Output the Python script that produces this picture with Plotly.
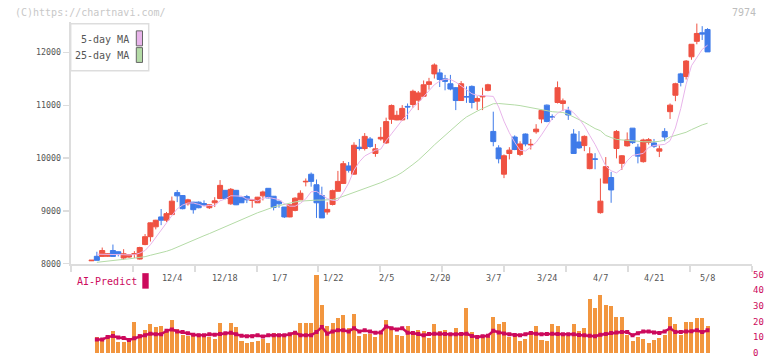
import plotly.graph_objects as go

# ---------------- data ----------------
open_ = [8055, 8140, 8138, 8140, 8250, 8226, 8107, 8126, 8180, 8088,
         8363, 8512, 8699, 8886, 8824, 8930, 9347, 9291, 9135, 9166,
         9166, 9140, 9060, 9154, 9235, 9390, 9135, 9390, 9260, 9272,
         9198, 9154, 9285, 9428, 9278, 9185, 9073, 8886, 9010, 9210,
         9550, 9695, 9496, 9291, 8979, 9122, 9372, 9521, 9852, 9696,
         10207, 10182, 10363, 10088, 10363, 10288, 10736, 10724, 10724, 10980,
         11016, 11097, 11172, 11397, 11596, 11615, 11502, 11409, 11334, 11091,
         11166, 11359, 11079, 11160, 11284, 10506, 10194, 9696, 10088, 10400,
         10070, 10456, 10250, 10499, 10742, 11004, 10785, 11054, 11035, 10904,
         10456, 10306, 10238, 9801, 9985, 8967, 9527, 9633, 10182, 9901,
         10232, 10568, 10207, 9933, 10300, 10288, 10132, 10506, 10880, 11191,
         11596, 11546, 11920, 12213, 12375, 12437]
high = [8070, 8226, 8306, 8200, 8363, 8230, 8275, 8180, 8238, 8320,
        8562, 8780, 8830, 9036, 8980, 9272, 9397, 9300, 9230, 9170,
        9180, 9200, 9122, 9260, 9584, 9395, 9434, 9395, 9265, 9303,
        9210, 9265, 9384, 9430, 9280, 9190, 9075, 9120, 9260, 9390,
        9615, 9727, 9596, 9459, 9166, 9403, 9758, 9945, 9926, 10300,
        10363, 10475, 10400, 10269, 10587, 10767, 11016, 10898, 11004, 11035,
        11297, 11272, 11471, 11521, 11795, 11689, 11577, 11577, 11347, 11459,
        11359, 11378, 11172, 11334, 11409, 10880, 10244, 10070, 10207, 10431,
        10319, 10468, 10362, 10643, 10917, 11016, 10829, 11453, 11129, 10973,
        10549, 10512, 10431, 10207, 10094, 9615, 10020, 9739, 10531, 10057,
        10487, 10570, 10269, 10369, 10381, 10363, 10238, 10568, 11035, 11428,
        11615, 11858, 12157, 12549, 12500, 12462]
low = [8050, 8064, 8138, 8130, 8138, 8138, 8076, 8110, 8107, 8080,
       8350, 8419, 8650, 8730, 8792, 8930, 9166, 9030, 9100, 8948,
       9050, 9100, 9036, 9073, 9222, 9222, 9116, 9110, 9150, 9148,
       9060, 9150, 9198, 9240, 9010, 9060, 8867, 8880, 8992, 9210,
       9465, 9459, 8867, 8867, 8929, 9104, 9370, 9515, 9727, 9690,
       10145, 10145, 10194, 10026, 10331, 10269, 10649, 10718, 10711, 10736,
       10954, 10910, 11160, 11297, 11508, 11347, 11285, 11285, 10910, 11085,
       11047, 10942, 10910, 10910, 11266, 10225, 9901, 9621, 9976, 10151,
       10038, 10225, 10163, 10462, 10661, 10680, 10724, 11035, 10892, 10724,
       10088, 10176, 10132, 9789, 9789, 8948, 9527, 9154, 9995, 9776,
       10219, 10269, 9901, 9914, 10257, 10194, 10020, 10319, 10742, 11079,
       11359, 11490, 11864, 12157, 12238, 12013]
close = [8065, 8064, 8250, 8190, 8138, 8188, 8188, 8170, 8190, 8306,
         8512, 8774, 8824, 8824, 8948, 9185, 9285, 9042, 9210, 9023,
         9060, 9110, 9116, 9191, 9484, 9235, 9409, 9116, 9154, 9210,
         9210, 9260, 9359, 9247, 9067, 9135, 8886, 9116, 9241, 9335,
         9560, 9559, 9154, 8867, 9029, 9384, 9559, 9895, 9770, 10244,
         10182, 10412, 10220, 10176, 10394, 10692, 10998, 10811, 10942, 10970,
         11266, 11235, 11390, 11446, 11764, 11490, 11453, 11309, 11091, 11409,
         11160, 11054, 11129, 11172, 11390, 10313, 9988, 10045, 10151, 10163,
         10269, 10269, 10260, 10549, 10904, 10693, 10780, 11334, 11085, 10817,
         10088, 10194, 10412, 10082, 9980, 9185, 9839, 9397, 10506, 10045,
         10344, 10294, 10038, 10344, 10350, 10225, 10176, 10400, 11004, 11409,
         11434, 11839, 12157, 12362, 12350, 12013]
ma5 = [None, 8180, 8180, 8175, 8175, 8175, 8170, 8165, 8170, 8200,
       8250, 8360, 8500, 8640, 8790, 8910, 9040, 9110, 9150, 9150,
       9124, 9089, 9104, 9100, 9192, 9227, 9287, 9287, 9280, 9225,
       9220, 9190, 9239, 9257, 9229, 9214, 9139, 9090, 9089, 9143,
       9228, 9362, 9370, 9295, 9234, 9199, 9199, 9347, 9527, 9770,
       9930, 10040, 10100, 10150, 10170, 10330, 10460, 10600, 10720, 10830,
       10960, 11050, 11160, 11270, 11390, 11460, 11495, 11492, 11440, 11370,
       11295, 11220, 11190, 11188, 11185, 11170, 10970, 10700, 10480, 10300,
       10150, 10135, 10210, 10300, 10440, 10600, 10750, 10850, 10910, 10930,
       10860, 10750, 10610, 10430, 10260, 10060, 9850, 9760, 9720, 9800,
       9950, 10050, 10070, 10090, 10200, 10240, 10250, 10260, 10330, 10570,
       10940, 11400, 11750, 11900, 12060, 12140]
ma25 = [None, 8026, 8040, 8052, 8064, 8073, 8083, 8092, 8101, 8115,
        8133, 8160, 8185, 8205, 8235, 8270, 8315, 8360, 8400, 8440,
        8485, 8530, 8570, 8615, 8660, 8705, 8750, 8795, 8840, 8885,
        8925, 8965, 9000, 9040, 9075, 9100, 9125, 9148, 9170, 9185,
        9195, 9200, 9205, 9205, 9208, 9215, 9240, 9275, 9320, 9360,
        9395, 9425, 9460, 9500, 9535, 9580, 9620, 9670, 9730, 9800,
        9880, 9960, 10050, 10150, 10250, 10340, 10440, 10530, 10620, 10700,
        10780, 10840, 10890, 10940, 10990, 11030, 11035, 11030, 11020, 11008,
        10995, 10975, 10950, 10930, 10910, 10895, 10880, 10872, 10865, 10830,
        10780, 10740, 10680, 10620, 10560, 10520, 10430, 10390, 10355, 10345,
        10340, 10330, 10320, 10310, 10306, 10310, 10318, 10340, 10400, 10430,
        10460, 10490, 10540, 10590, 10630, 10661]
volume = [None, 10.1, 8.4, 11.5, 13.6, 6.9, 6.9, 7.3, 19.9, 11.8,
          14.3, 18.1, 16.2, 16.8, 13.6, 21.2, 14.9, 11.1, 10.7, 11.5,
          11.1, 11.5, 10.1, 8.6, 19.3, 11.8, 19.3, 16.4, 7.3, 6.1,
          6.9, 7.3, 8.6, 6.5, 12.8, 10.7, 12.0, 11.5, 12.4, 18.7,
          19.3, 19.3, 49.5, 30.6, 17.0, 18.7, 22.5, 24.1, 15.5, 25.0,
          10.5, 11.8, 12.0, 9.9, 12.8, 20.6, 15.7, 11.1, 10.7, 17.0,
          12.8, 14.3, 13.6, 9.4, 18.1, 13.6, 14.3, 11.1, 15.7, 11.1,
          28.3, 13.2, 10.1, 10.5, 10.1, 23.1, 18.1, 19.9, 10.1, 11.1,
          7.3, 8.6, 13.6, 16.8, 8.0, 7.3, 18.1, 17.4, 11.1, 10.7,
          18.1, 13.6, 15.7, 34.6, 28.3, 36.9, 30.6, 30.0, 23.1, 22.7,
          11.1, 7.3, 10.1, 9.0, 6.5, 8.0, 9.4, 11.1, 23.1, 18.1,
          11.1, 19.9, 19.9, 22.5, 22.5, 17.4]
ai_predict = [None, 8.4, 8.4, 10.0, 10.7, 9.7, 9.4, 8.2, 9.2, 10.5,
              11.1, 12.2, 11.8, 11.8, 14.0, 14.9, 13.6, 13.2, 12.5, 11.5,
              11.1, 11.1, 11.8, 11.5, 12.0, 12.5, 12.8, 11.8, 10.8, 10.5,
              10.6, 11.1, 10.3, 11.1, 11.1, 11.1, 11.1, 11.8, 12.8, 11.1,
              11.1, 11.1, 13.2, 16.4, 12.2, 13.6, 14.3, 14.3, 13.6, 15.7,
              13.6, 14.3, 13.5, 12.8, 13.0, 16.8, 15.7, 14.9, 15.7, 12.8,
              12.6, 12.0, 11.1, 12.0, 12.2, 12.2, 12.0, 11.8, 11.8, 12.0,
              12.2, 10.7, 10.1, 10.5, 10.9, 14.0, 13.0, 12.3, 11.8, 11.4,
              11.1, 11.8, 12.6, 12.2, 11.8, 12.0, 12.2, 12.0, 11.8, 11.8,
              11.8, 11.3, 11.1, 10.8, 10.5, 11.5, 12.0, 12.6, 13.0, 13.2,
              13.2, 11.1, 12.5, 13.6, 13.6, 13.0, 12.6, 13.6, 15.7, 13.2,
              13.2, 13.6, 13.8, 14.3, 13.2, 14.3]
date_labels = ["12/4", "12/18", "1/7", "1/22", "2/5", "2/20",
               "3/7", "3/24", "4/7", "4/21", "5/8"]
date_label_idx = [15, 25, 35, 45, 55, 65, 75, 85, 95, 105, 115]
price_ticks = [8000, 9000, 10000, 11000, 12000]
price_tick_text = ["8000", "9000", "10000", "11000", "12000"]
vol_ticks = [0, 10, 20, 30, 40, 50]
vol_tick_text = ["0", "10", "20", "30", "40", "50"]

# ---------------- styling ----------------
W, H = 772, 361
RED = "#ef5242"
BLUE = "#3f7be9"
ORANGE = "#f2963f"
CRIMSON = "#cc0a5c"
PINK = "#e8b4ea"
GREEN = "#b4dba6"
AXIS = "#dddddd"
TXT = "#555555"
FONT = "DejaVu Sans Mono"


def px(x):
    return x / W


def py(y):
    return 1 - y / H


x = list(range(len(close)))
X_LEFT, X_RIGHT = 70.7, 752.0
STEP = 5.357
x_range = [-(91.5 - X_LEFT) / STEP, (len(close) - 1) + (X_RIGHT - (91.5 + STEP * (len(close) - 1))) / STEP]
span = x_range[1] - x_range[0]

fig = go.Figure()
fig.add_trace(go.Candlestick(
    x=x, open=open_, high=high, low=low, close=close,
    increasing=dict(line=dict(color=RED, width=1), fillcolor=RED),
    decreasing=dict(line=dict(color=BLUE, width=1), fillcolor=BLUE),
    whiskerwidth=0, showlegend=False, xaxis="x", yaxis="y"))
fig.add_trace(go.Scatter(x=x, y=ma25, mode="lines", line=dict(color=GREEN, width=1),
                         showlegend=False, xaxis="x", yaxis="y"))
fig.add_trace(go.Scatter(x=x, y=ma5, mode="lines", line=dict(color=PINK, width=1),
                         showlegend=False, xaxis="x", yaxis="y"))
fig.add_trace(go.Bar(x=x, y=volume, marker=dict(color=ORANGE, line=dict(width=0)),
                     width=0.75, showlegend=False, xaxis="x2", yaxis="y2"))
fig.add_trace(go.Scatter(x=x, y=ai_predict, mode="lines+markers",
                         line=dict(color=CRIMSON, width=2.5),
                         marker=dict(color=CRIMSON, size=4, symbol="square"),
                         showlegend=False, xaxis="x2", yaxis="y2"))

y_top_px, y_bot_px = 22.0, 267.4
scale = (267.4 - 53.3) / 4000.0
main_range = [8000, 8000 + (y_bot_px - y_top_px) / scale]

vol_dom = [0.0, 0.255]
vol_scale = (357.7 - 278.3) / 50.0
vol_range = [-(H - 357.7) / vol_scale, (357.7 - H * (1 - vol_dom[1])) / vol_scale]

annotations = []
for idx, lab in zip(date_label_idx, date_labels):
    annotations.append(dict(x=idx, xref="x", y=py(282), yref="paper", text=lab,
                            showarrow=False, xanchor="center", yanchor="middle",
                            font=dict(family=FONT, size=8.5, color=TXT)))
annotations += [
    dict(x=px(13), y=py(12.5), xref="paper", yref="paper", text="(C)https://chartnavi.com/",
         showarrow=False, xanchor="left", yanchor="middle",
         font=dict(family=FONT, size=10, color="#c8c8c8")),
    dict(x=px(758), y=py(12.5), xref="paper", yref="paper", text="7974",
         showarrow=False, xanchor="right", yanchor="middle",
         font=dict(family=FONT, size=10, color="#bdbdbd")),
    dict(x=px(131), y=py(40), xref="paper", yref="paper", text="5-day MA",
         showarrow=False, xanchor="right", yanchor="middle",
         font=dict(family=FONT, size=10, color=TXT)),
    dict(x=px(131), y=py(56.5), xref="paper", yref="paper", text="25-day MA",
         showarrow=False, xanchor="right", yanchor="middle",
         font=dict(family=FONT, size=10, color=TXT)),
    dict(x=px(74.5), y=py(285.5), xref="paper", yref="paper", text="AI-Predict",
         showarrow=False, xanchor="left", yanchor="middle",
         font=dict(family=FONT, size=10, color=CRIMSON)),
]

shapes = [
    dict(type="rect", xref="paper", yref="paper", x0=px(70.7), x1=px(148.7),
         y0=py(71.7), y1=py(24), line=dict(color=AXIS, width=1.5), fillcolor="white"),
    dict(type="rect", xref="paper", yref="paper", x0=px(136.3), x1=px(142.5),
         y0=py(46.5), y1=py(31.3), line=dict(color="#666666", width=1), fillcolor=PINK),
    dict(type="rect", xref="paper", yref="paper", x0=px(136.3), x1=px(142.5),
         y0=py(63.3), y1=py(48.3), line=dict(color="#666666", width=1), fillcolor=GREEN),
    dict(type="rect", xref="paper", yref="paper", x0=px(142.3), x1=px(148.7),
         y0=py(292.7), y1=py(277), line=dict(width=0), fillcolor=CRIMSON),
]

fig.update_layout(
    width=W, height=H,
    margin=dict(l=0, r=0, t=0, b=0),
    paper_bgcolor="white", plot_bgcolor="rgba(0,0,0,0)",
    boxgap=0.06, boxgroupgap=0.0,
    bargap=0,
    hovermode=False,
    xaxis=dict(domain=[px(X_LEFT), px(X_RIGHT)], range=x_range, anchor="y",
               rangeslider=dict(visible=False),
               tickmode="linear", tick0=x_range[0], dtick=span / 11,
               ticks="outside", ticklen=6, tickwidth=2, tickcolor=AXIS,
               showticklabels=False, showgrid=False, zeroline=False,
               showline=True, linecolor=AXIS, linewidth=2),
    yaxis=dict(domain=[py(y_bot_px), py(y_top_px)], range=main_range, anchor="x",
               tickmode="array", tickvals=price_ticks, ticktext=price_tick_text,
               ticks="outside", ticklen=6, tickwidth=1.5, tickcolor=AXIS,
               tickfont=dict(family=FONT, size=8.3, color=TXT),
               showgrid=False, zeroline=False,
               showline=True, linecolor=AXIS, linewidth=2),
    xaxis2=dict(domain=[px(X_LEFT), px(X_RIGHT)], range=x_range, anchor="y2",
                visible=False),
    yaxis2=dict(domain=vol_dom, range=vol_range, anchor="x2", side="right",
                tickmode="array", tickvals=vol_ticks, ticktext=vol_tick_text, ticks="",
                tickfont=dict(family=FONT, size=9, color=CRIMSON),
                showgrid=False, zeroline=False, showline=False),
    annotations=annotations,
    shapes=shapes,
)

fig.write_html(
    "out.html",
    config={"displayModeBar": False, "staticPlot": True},
    post_script=("document.documentElement.style.margin='0';"
                 "document.documentElement.style.padding='0';"
                 "document.documentElement.style.overflow='hidden';"
                 "document.body.style.margin='0';document.body.style.padding='0';"
                 "document.body.style.overflow='hidden';"),
)
